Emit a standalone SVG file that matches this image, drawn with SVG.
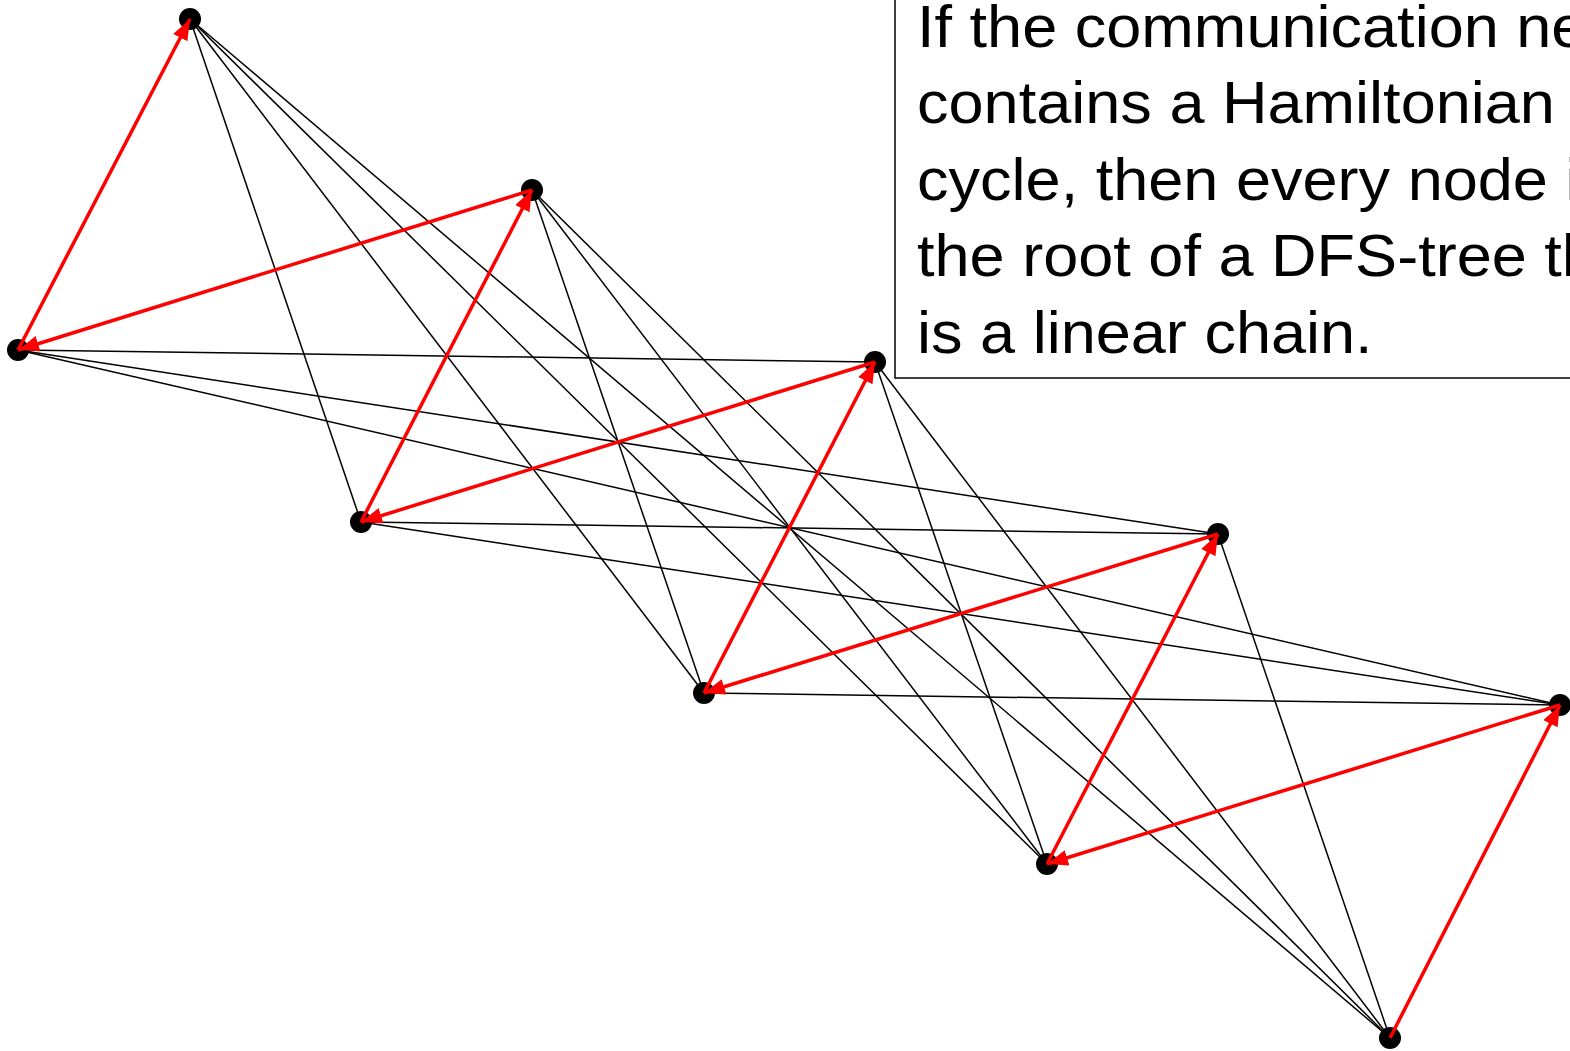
<svg xmlns="http://www.w3.org/2000/svg" width="1570" height="1051" viewBox="0 0 1570 1051">
<style>
.edge{stroke:#000;stroke-width:1.5;fill:none}
.path{stroke:#ff0000;stroke-width:3.5;fill:none;marker-end:url(#ah)}
.node{fill:#000}
.txt{font-family:"Liberation Sans",Arial,sans-serif;font-size:59.5px;fill:#000}
</style>
<defs>
<marker id="ah" markerUnits="userSpaceOnUse" markerWidth="24" markerHeight="18" refX="21" refY="8" orient="auto">
<path d="M0,0 L21,8 L0,16 Z" fill="#ff0000"/>
</marker>
</defs>
<rect width="1570" height="1051" fill="#fff"/>
<g id="connectors">
<g id="black-edges">
<line class="edge" x1="190" y1="19" x2="361" y2="522"/>
<line class="edge" x1="190" y1="19" x2="704" y2="693"/>
<line class="edge" x1="190" y1="19" x2="1047" y2="864"/>
<line class="edge" x1="190" y1="19" x2="1390" y2="1038"/>
<line class="edge" x1="18" y1="350" x2="875" y2="362"/>
<line class="edge" x1="18" y1="350" x2="1218" y2="534"/>
<line class="edge" x1="18" y1="350" x2="1560" y2="705"/>
<line class="edge" x1="532" y1="190" x2="704" y2="693"/>
<line class="edge" x1="532" y1="190" x2="1047" y2="864"/>
<line class="edge" x1="532" y1="190" x2="1390" y2="1038"/>
<line class="edge" x1="361" y1="522" x2="1218" y2="534"/>
<line class="edge" x1="361" y1="522" x2="1560" y2="705"/>
<line class="edge" x1="875" y1="362" x2="1047" y2="864"/>
<line class="edge" x1="875" y1="362" x2="1390" y2="1038"/>
<line class="edge" x1="704" y1="693" x2="1560" y2="705"/>
<line class="edge" x1="1218" y1="534" x2="1390" y2="1038"/>
</g>
</g>
<g id="nodes">
<g id="n-A"><circle class="node" cx="190" cy="19" r="11"/></g>
<g id="n-B"><circle class="node" cx="18" cy="350" r="11"/></g>
<g id="n-C"><circle class="node" cx="532" cy="190" r="11"/></g>
<g id="n-D"><circle class="node" cx="361" cy="522" r="11"/></g>
<g id="n-E"><circle class="node" cx="875" cy="362" r="11"/></g>
<g id="n-F"><circle class="node" cx="704" cy="693" r="11"/></g>
<g id="n-G"><circle class="node" cx="1218" cy="534" r="11"/></g>
<g id="n-H"><circle class="node" cx="1047" cy="864" r="11"/></g>
<g id="n-I"><circle class="node" cx="1560" cy="705" r="11"/></g>
<g id="n-J"><circle class="node" cx="1390" cy="1038" r="11"/></g>
</g>
<g id="dfs-chain">
<line class="path" x1="1390" y1="1038" x2="1560" y2="705"/>
<line class="path" x1="1560" y1="705" x2="1047" y2="864"/>
<line class="path" x1="1047" y1="864" x2="1218" y2="534"/>
<line class="path" x1="1218" y1="534" x2="704" y2="693"/>
<line class="path" x1="704" y1="693" x2="875" y2="362"/>
<line class="path" x1="875" y1="362" x2="361" y2="522"/>
<line class="path" x1="361" y1="522" x2="532" y2="190"/>
<line class="path" x1="532" y1="190" x2="18" y2="350"/>
<line class="path" x1="18" y1="350" x2="190" y2="19"/>
</g>
<g id="note">
<rect x="895" y="-5" width="690" height="383" fill="#fff" stroke="#000" stroke-width="1.5"/>
<g transform="translate(917 0) scale(1.06 1)">
<text class="txt" x="0" y="47">If the communication network</text>
<text class="txt" x="0" y="123">contains a Hamiltonian</text>
<text class="txt" x="0" y="200">cycle, then every node is</text>
<text class="txt" x="0" y="276.5">the root of a DFS-tree that</text>
<text class="txt" x="0" y="353">is a linear chain.</text>
</g>
</g>
</svg>
